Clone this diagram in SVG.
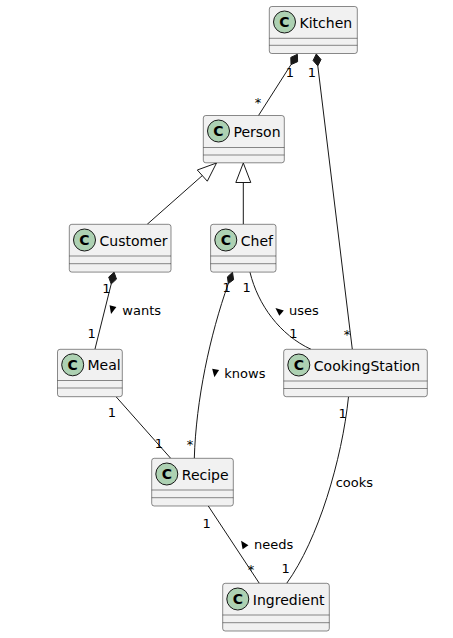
<svg xmlns="http://www.w3.org/2000/svg" width="453" height="638" viewBox="0 0 453 638">
<style>
.box{fill:#F1F1F1;stroke:#181818;stroke-width:0.5}
.div{stroke:#181818;stroke-width:0.5}
.circ{fill:#ADD1B2;stroke:#181818;stroke-width:1}
.cl{font-family:"DejaVu Sans",sans-serif;font-size:14px;font-weight:bold;fill:#000;text-anchor:middle}
.name{font-family:"DejaVu Sans",sans-serif;font-size:14px;fill:#000}
.lbl{font-family:"DejaVu Sans",sans-serif;font-size:13px;fill:#000}
.m{font-family:"DejaVu Sans",sans-serif;font-size:13px;fill:#000;text-anchor:middle}
.ln{fill:none;stroke:#181818;stroke-width:1}
.dia{fill:#181818;stroke:#181818;stroke-width:1}
.tri{fill:none;stroke:#181818;stroke-width:1}
.arr{fill:#000}
</style>
<defs>
<path id="la" d="M4,0 L-4,-3.5 L-4,3.5 Z"/>
</defs>
<rect width="453" height="638" fill="#FFFFFF"/>

<g id="connectors">
  <polygon class="dia" points="297.4,54.3 290.8,57.4 291.0,64.6 297.6,61.7"/>
  <line class="ln" x1="291.0" y1="64.6" x2="258.5" y2="115.5"/>
  <text class="m" x="290" y="76.5">1</text>
  <text class="m" x="258" y="107">*</text>
  <polygon class="dia" points="316.3,54 313.1,60.5 317.8,65.9 321.0,59.5"/>
  <line class="ln" x1="317.8" y1="65.9" x2="352.3" y2="349.3"/>
  <text class="m" x="312" y="76.5">1</text>
  <text class="m" x="347" y="339">*</text>
  <polygon class="tri" points="216.5,163 197.3,170.0 207.3,181.2"/>
  <line class="ln" x1="202.3" y1="175.6" x2="147.2" y2="224.3"/>
  <polygon class="tri" points="243.3,163 235.8,182.5 250.8,182.5"/>
  <line class="ln" x1="243.3" y1="182.5" x2="243.3" y2="224.3"/>
  <polygon class="dia" points="114.1,272.3 108.7,277.1 111.2,284.0 116.5,279.1"/>
  <line class="ln" x1="111.2" y1="284.0" x2="95" y2="349"/>
  <text class="m" x="106.5" y="293">1</text>
  <text class="m" x="91.7" y="338">1</text>
  <use href="#la" class="arr" transform="translate(112,310) rotate(104)"/>
  <text class="lbl" x="122.3" y="315">wants</text>
  <polygon class="dia" points="232.5,272.3 227.4,276.9 228.3,283.6 233.6,279.7"/>
  <path class="ln" d="M228.3,283.6 C210,335 196,400 194.3,458.3"/>
  <text class="m" x="226.7" y="292">1</text>
  <text class="m" x="190" y="448.5">*</text>
  <use href="#la" class="arr" transform="translate(215,373.3) rotate(99)"/>
  <text class="lbl" x="224.3" y="378">knows</text>
  <path class="ln" d="M250,272.3 C258,305 280,335 311,349.3"/>
  <text class="m" x="246.7" y="292">1</text>
  <text class="m" x="293.3" y="337.5">1</text>
  <use href="#la" class="arr" transform="translate(278.5,310.5) rotate(-140)"/>
  <text class="lbl" x="289" y="315">uses</text>
  <line class="ln" x1="116.3" y1="397" x2="170.7" y2="458.3"/>
  <text class="m" x="112" y="417">1</text>
  <text class="m" x="159" y="447.5">1</text>
  <line class="ln" x1="208.3" y1="506" x2="259.3" y2="583.3"/>
  <text class="m" x="206.7" y="527.5">1</text>
  <text class="m" x="251" y="574">*</text>
  <use href="#la" class="arr" transform="translate(243.3,544) rotate(-124)"/>
  <text class="lbl" x="254" y="548.5">needs</text>
  <path class="ln" d="M348.5,396.8 C342,460 318,540 286.7,583.3"/>
  <text class="m" x="342.7" y="418">1</text>
  <text class="m" x="285.7" y="572.5">1</text>
  <text class="lbl" x="335.7" y="487">cooks</text>
</g>

<g id="Kitchen">
  <rect class="box" x="269.3" y="6.5" width="88" height="47" rx="2.5"/>
  <line class="div" x1="269.3" y1="38.3" x2="357.3" y2="38.3"/>
  <line class="div" x1="269.3" y1="45.3" x2="357.3" y2="45.3"/>
  <circle class="circ" cx="284.5" cy="22" r="11"/>
  <text class="cl" x="284.5" y="27">C</text>
  <text class="name" x="299.5" y="27.5">Kitchen</text>
</g>
<g id="Person">
  <rect class="box" x="203.3" y="115.5" width="81" height="47.3" rx="2.5"/>
  <line class="div" x1="203.3" y1="147.5" x2="284.3" y2="147.5"/>
  <line class="div" x1="203.3" y1="155" x2="284.3" y2="155"/>
  <circle class="circ" cx="218.5" cy="131" r="11"/>
  <text class="cl" x="218.5" y="136">C</text>
  <text class="name" x="233.5" y="136.5">Person</text>
</g>
<g id="Customer">
  <rect class="box" x="69.3" y="224.3" width="101.7" height="47.8" rx="2.5"/>
  <line class="div" x1="69.3" y1="256" x2="171" y2="256"/>
  <line class="div" x1="69.3" y1="263.7" x2="171" y2="263.7"/>
  <circle class="circ" cx="84.5" cy="240" r="11"/>
  <text class="cl" x="84.5" y="245">C</text>
  <text class="name" x="99.5" y="245.5">Customer</text>
</g>
<g id="Chef">
  <rect class="box" x="210.6" y="224.3" width="65.4" height="47.8" rx="2.5"/>
  <line class="div" x1="210.6" y1="256" x2="276" y2="256"/>
  <line class="div" x1="210.6" y1="263.7" x2="276" y2="263.7"/>
  <circle class="circ" cx="225.8" cy="240" r="11"/>
  <text class="cl" x="225.8" y="245">C</text>
  <text class="name" x="240.8" y="245.5">Chef</text>
</g>
<g id="Meal">
  <rect class="box" x="57.5" y="349.3" width="64.8" height="47.4" rx="2.5"/>
  <line class="div" x1="57.5" y1="380.5" x2="122.3" y2="380.5"/>
  <line class="div" x1="57.5" y1="388" x2="122.3" y2="388"/>
  <circle class="circ" cx="72.7" cy="364.8" r="11"/>
  <text class="cl" x="72.7" y="369.8">C</text>
  <text class="name" x="87.5" y="370.3">Meal</text>
</g>
<g id="CookingStation">
  <rect class="box" x="283.7" y="349.3" width="143.6" height="47.4" rx="2.5"/>
  <line class="div" x1="283.7" y1="381" x2="427.3" y2="381"/>
  <line class="div" x1="283.7" y1="388.5" x2="427.3" y2="388.5"/>
  <circle class="circ" cx="298.8" cy="365" r="11"/>
  <text class="cl" x="298.8" y="370">C</text>
  <text class="name" x="313.8" y="370.5">CookingStation</text>
</g>
<g id="Recipe">
  <rect class="box" x="151.7" y="458.3" width="81.6" height="47.7" rx="2.5"/>
  <line class="div" x1="151.7" y1="490" x2="233.3" y2="490"/>
  <line class="div" x1="151.7" y1="497.7" x2="233.3" y2="497.7"/>
  <circle class="circ" cx="166.8" cy="474" r="11"/>
  <text class="cl" x="166.8" y="479">C</text>
  <text class="name" x="181.8" y="479.5">Recipe</text>
</g>
<g id="Ingredient">
  <rect class="box" x="222.7" y="583.3" width="106.6" height="47.7" rx="2.5"/>
  <line class="div" x1="222.7" y1="615" x2="329.3" y2="615"/>
  <line class="div" x1="222.7" y1="622.7" x2="329.3" y2="622.7"/>
  <circle class="circ" cx="237.8" cy="599" r="11"/>
  <text class="cl" x="237.8" y="604">C</text>
  <text class="name" x="252.8" y="604.5">Ingredient</text>
</g>
</svg>
